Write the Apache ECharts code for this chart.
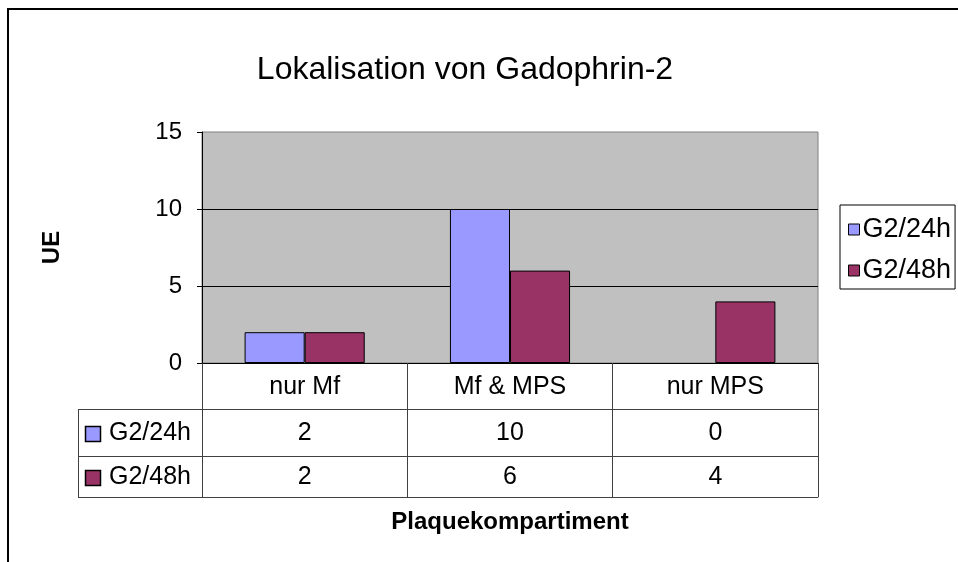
<!DOCTYPE html>
<html>
<head>
<meta charset="utf-8">
<script src="https://cdn.jsdelivr.net/npm/echarts@6/dist/echarts.min.js"></script>
<style>
html,body{margin:0;padding:0;background:#fff;}
#chart{width:958px;height:562px;}
</style>
</head>
<body>
<div id="chart"></div>
<script>
var titleText = 'Lokalisation von Gadophrin-2';
var categories = ['nur Mf', 'Mf & MPS', 'nur MPS'];
var seriesNames = ['G2/24h', 'G2/48h'];
var g2_24h = [2, 10, 0];
var g2_48h = [2, 6, 4];
var seriesColors = ['#9999ff', '#993366'];
var yTicks = [0, 5, 10, 15];
var yAxisName = 'UE';
var xAxisName = 'Plaquekompartiment';

var FONT = '"Liberation Sans", Arial, sans-serif';
var gridLeft = 202, gridTop = 132, gridW = 616, gridH = 231;
var axisY = gridTop + gridH; // 363
var row1 = 46, row2 = 47, row3 = 41;
var tableLeft = 78;
var lineCol = '#404040';
var seriesData = [g2_24h, g2_48h];
var TF = 25;

var chart = echarts.init(document.getElementById('chart'));

function tableAxis(idx, offset, len, values, labelCenter) {
  return {
    type: 'category', data: categories, gridIndex: 0, position: 'bottom',
    offset: offset,
    axisLine: {show: true, lineStyle: {color: lineCol, width: 1}},
    axisTick: {show: len > 0, length: len, alignWithLabel: false, lineStyle: {color: lineCol, width: 1}},
    axisLabel: {show: !!values, interval: 0, fontSize: TF, fontFamily: FONT, color: '#000',
      verticalAlign: 'middle', margin: labelCenter,
      formatter: function (v, i) { return values ? String(values[i]) : ''; }},
    splitLine: {show: false}
  };
}

var graphics = [
  {type: 'rect', shape: {x: 8, y: 9, width: 1200, height: 1200}, style: {fill: 'none', stroke: '#000', lineWidth: 2}, silent: true}
];
// left column of the data table
var yA = axisY + row1, yB = axisY + row1 + row2, yC = axisY + row1 + row2 + row3;
[yA, yB, yC].forEach(function (yy) {
  graphics.push({type: 'line', shape: {x1: tableLeft, y1: yy + 0.5, x2: gridLeft, y2: yy + 0.5}, style: {stroke: lineCol, lineWidth: 1}});
});
graphics.push({type: 'line', shape: {x1: tableLeft + 0.5, y1: yA, x2: tableLeft + 0.5, y2: yC}, style: {stroke: lineCol, lineWidth: 1}});
graphics.push({type: 'line', shape: {x1: gridLeft + 0.5, y1: axisY, x2: gridLeft + 0.5, y2: yC}, style: {stroke: lineCol, lineWidth: 1}});
var rowCenters = [(yA + yB) / 2, (yB + yC) / 2];
seriesNames.forEach(function (nm, i) {
  graphics.push({type: 'rect', shape: {x: 85.5, y: Math.round(rowCenters[i] - 7) + 0.5, width: 15, height: 15},
    style: {fill: seriesColors[i], stroke: '#000', lineWidth: 1.5}});
  graphics.push({type: 'text', x: 109, y: rowCenters[i] + 1,
    style: {text: nm, font: TF + 'px ' + FONT, fill: '#000', textVerticalAlign: 'middle', verticalAlign: 'middle'}});
});

var option = {
  animation: false,
  backgroundColor: '#fff',
  title: {
    text: titleText, left: 460, top: 49, textAlign: 'center',
    textStyle: {fontSize: 32, fontWeight: 'normal', fontFamily: FONT, color: '#000'}
  },
  legend: {
    orient: 'vertical', left: 840, top: 205,
    padding: [11, 4, 5, 8], itemGap: 14,
    itemWidth: 11, itemHeight: 11, icon: 'rect',
    borderColor: '#000', borderWidth: 1, backgroundColor: '#fff',
    itemStyle: {borderColor: '#000', borderWidth: 1},
    textStyle: {fontSize: 27, fontFamily: FONT, color: '#000', padding: [0, 0, 0, -2]},
    data: seriesNames
  },
  grid: {
    left: gridLeft, top: gridTop, width: gridW, height: gridH,
    show: true, backgroundColor: '#c0c0c0', borderColor: '#808080', borderWidth: 1,
    containLabel: false
  },
  xAxis: [
    {
      type: 'category', data: categories, position: 'bottom',
      axisLine: {show: true, lineStyle: {color: '#000', width: 1}},
      axisTick: {show: true, length: row1, alignWithLabel: false, lineStyle: {color: lineCol, width: 1}},
      axisLabel: {interval: 0, fontSize: TF, fontFamily: FONT, color: '#000', verticalAlign: 'middle', margin: row1 / 2 + 1},
      splitLine: {show: false}
    },
    tableAxis(1, row1, row2, g2_24h, row2 / 2 + 1),
    tableAxis(2, row1 + row2, row3, g2_48h, row3 / 2 + 1),
    Object.assign(tableAxis(3, row1 + row2 + row3, 0, null, 0), {
      name: xAxisName, nameLocation: 'middle', nameGap: 25,
      nameTextStyle: {fontSize: 24, fontWeight: 'bold', fontFamily: FONT, color: '#000', verticalAlign: 'middle'}
    })
  ],
  yAxis: {
    type: 'value', min: yTicks[0], max: yTicks[yTicks.length - 1], interval: yTicks[1] - yTicks[0],
    axisLine: {show: true, lineStyle: {color: '#000', width: 1}},
    axisTick: {show: true, length: 5, lineStyle: {color: '#000'}},
    axisLabel: {fontSize: 24, fontFamily: FONT, color: '#000', margin: 20},
    splitLine: {show: true, showMaxLine: false, lineStyle: {color: '#000', width: 1}},
    name: yAxisName, nameLocation: 'middle', nameRotate: 90, nameGap: 138,
    nameTextStyle: {fontSize: 24, fontWeight: 'bold', fontFamily: FONT, color: '#000'}
  },
  series: seriesNames.map(function (nm, i) {
    return {
      name: nm, type: 'bar', xAxisIndex: 0,
      data: seriesData[i].map(function (v) {
        return v === 0 ? {value: v, itemStyle: {borderWidth: 0}} : v;
      }),
      barGap: '0%', barCategoryGap: '41.5%',
      itemStyle: {color: seriesColors[i], borderColor: '#000', borderWidth: 1}
    };
  }),
  graphic: graphics
};
chart.setOption(option);
</script>
</body>
</html>
